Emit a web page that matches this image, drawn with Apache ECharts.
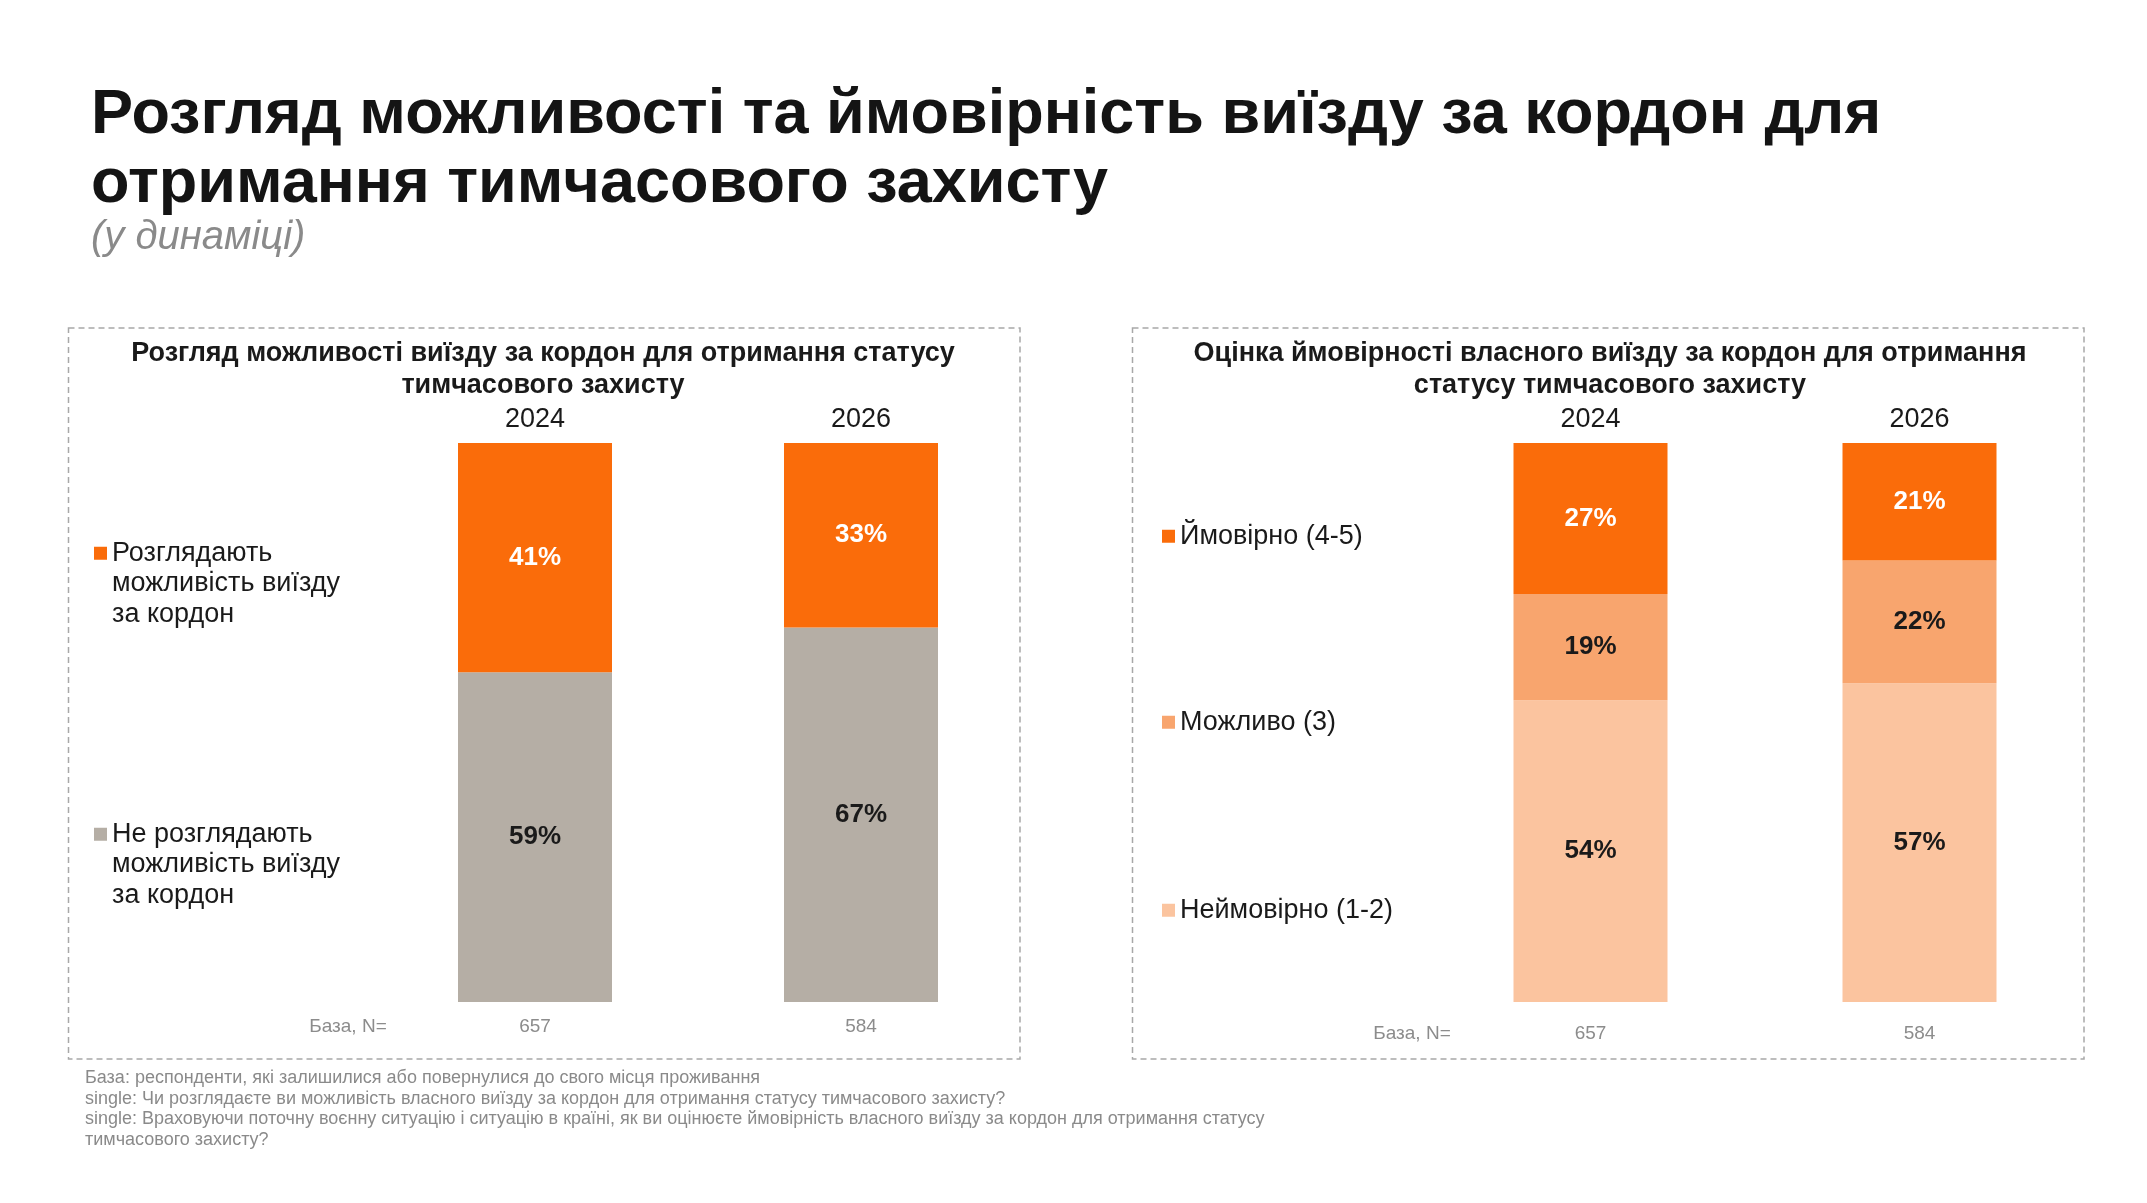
<!DOCTYPE html>
<html lang="uk">
<head>
<meta charset="utf-8">
<title>Розгляд можливості та ймовірність виїзду за кордон</title>
<script src="https://cdn.jsdelivr.net/npm/echarts@6/dist/echarts.min.js"></script>
<style>
  html, body { margin: 0; padding: 0; background: #fff; }
  #chart { width: 2147px; height: 1203px; }
</style>
</head>
<body>
<div id="chart"></div>
<script>
// дані
const years = ['2024', '2026'];
const baseN = ['657', '584'];
// ліва діаграма: розгляд можливості виїзду
const consider = [41, 33];
const notConsider = [59, 67];
// права діаграма: оцінка ймовірності виїзду
const likely = [27, 21];
const possible = [19, 22];
const unlikely = [54, 57];

const FONT = '"Liberation Sans", Arial, sans-serif';
const ORANGE = '#FA6C0A';
const GRAY = '#B5AEA5';
const MID = '#F8A56E';
const LIGHT = '#FBC49F';
const DARK = '#1a1a1a';

// два порожні рядки зверху, щоб квадратик стояв навпроти першого рядка
const legendText = {
  'Розглядають можливість виїзду за кордон': '\n\nРозглядають\nможливість виїзду\nза кордон',
  'Не розглядають можливість виїзду за кордон': '\n\nНе розглядають\nможливість виїзду\nза кордон'
};

const chart = echarts.init(document.getElementById('chart'));

// одна легенда на кожен пункт, щоб точно поставити по висоті
function legendFor(name, left, top) {
  return {
    data: [name],
    orient: 'vertical',
    left: left,
    top: top,
    padding: 0,
    icon: 'rect',
    itemWidth: 13,
    itemHeight: 13,
    itemGap: 0,
    selectedMode: false,
    formatter: n => legendText[n] || n,
    textStyle: { fontFamily: FONT, fontSize: 27, color: DARK, lineHeight: 30.5 }
  };
}

function barSeries(name, data, color, labelColor, idx) {
  return {
    type: 'bar',
    name: name,
    data: data,
    stack: 'st' + idx,
    xAxisIndex: idx * 2,
    yAxisIndex: idx,
    barWidth: 154,
    itemStyle: { color: color },
    label: {
      show: true,
      position: 'inside',
      formatter: '{c}%',
      color: labelColor,
      fontFamily: FONT,
      fontSize: 26,
      fontWeight: 'bold',
      textBorderWidth: 0
    },
    emphasis: { disabled: true }
  };
}

function yearAxis(grid) {
  return {
    gridIndex: grid, type: 'category', data: years, position: 'top',
    axisLine: { show: false }, axisTick: { show: false }, splitLine: { show: false },
    axisLabel: { fontFamily: FONT, fontSize: 27, color: DARK, margin: 10 }
  };
}

function baseAxis(grid, margin) {
  return {
    gridIndex: grid, type: 'category', data: baseN, position: 'bottom',
    axisLine: { show: false }, axisTick: { show: false }, splitLine: { show: false },
    axisLabel: { fontFamily: FONT, fontSize: 19, color: '#8c8c8c', margin: margin }
  };
}

const boxStyle = { fill: 'none', stroke: '#A8A8A8', lineWidth: 1.5, lineDash: [6, 4] };

const option = {
  backgroundColor: '#fff',
  animation: false,
  title: [
    {
      text: 'Розгляд можливості та ймовірність виїзду за кордон для\nотримання тимчасового захисту',
      left: 86, top: 76,
      textStyle: { fontFamily: FONT, fontSize: 63, fontWeight: 'bold', color: '#141414', lineHeight: 69 }
    },
    {
      text: '(у динаміці)',
      left: 86, top: 211,
      textStyle: { fontFamily: FONT, fontSize: 40, fontStyle: 'italic', fontWeight: 'normal', color: '#8a8a8a', lineHeight: 43 }
    }
  ],
  legend: [
    legendFor('Розглядають можливість виїзду за кордон', 94, 477),
    legendFor('Не розглядають можливість виїзду за кордон', 94, 758),
    legendFor('Ймовірно (4-5)', 1162, 521),
    legendFor('Можливо (3)', 1162, 707),
    legendFor('Неймовірно (1-2)', 1162, 895)
  ],
  grid: [
    { left: 372, width: 652, top: 443, height: 559 },
    { left: 1426, width: 658, top: 443, height: 559 }
  ],
  xAxis: [yearAxis(0), baseAxis(0, 15), yearAxis(1), baseAxis(1, 22)],
  yAxis: [
    { gridIndex: 0, type: 'value', min: 0, max: 100, show: false },
    { gridIndex: 1, type: 'value', min: 0, max: 100, show: false }
  ],
  series: [
    barSeries('Не розглядають можливість виїзду за кордон', notConsider, GRAY, DARK, 0),
    barSeries('Розглядають можливість виїзду за кордон', consider, ORANGE, '#fff', 0),
    barSeries('Неймовірно (1-2)', unlikely, LIGHT, DARK, 1),
    barSeries('Можливо (3)', possible, MID, DARK, 1),
    barSeries('Ймовірно (4-5)', likely, ORANGE, '#fff', 1)
  ],
  graphic: [
    { type: 'rect', shape: { x: 68.5, y: 328, width: 951.5, height: 731 }, style: boxStyle, silent: true },
    { type: 'rect', shape: { x: 1132.5, y: 328, width: 951.5, height: 731 }, style: boxStyle, silent: true },
    {
      type: 'text', x: 543, y: 370,
      style: {
        text: 'Розгляд можливості виїзду за кордон для отримання статусу\nтимчасового захисту',
        fontFamily: FONT, fontSize: 27, fontWeight: 'bold', fill: DARK, lineHeight: 32,
        align: 'center', verticalAlign: 'middle'
      }
    },
    {
      type: 'text', x: 1610, y: 370,
      style: {
        text: 'Оцінка ймовірності власного виїзду за кордон для отримання\nстатусу тимчасового захисту',
        fontFamily: FONT, fontSize: 27, fontWeight: 'bold', fill: DARK, lineHeight: 32,
        align: 'center', verticalAlign: 'middle'
      }
    },
    {
      type: 'text', x: 348, y: 1027,
      style: { text: 'База, N=', fontFamily: FONT, fontSize: 19, fill: '#8c8c8c', align: 'center', verticalAlign: 'middle' }
    },
    {
      type: 'text', x: 1412, y: 1034,
      style: { text: 'База, N=', fontFamily: FONT, fontSize: 19, fill: '#8c8c8c', align: 'center', verticalAlign: 'middle' }
    },
    {
      type: 'text', x: 85, y: 1068,
      style: {
        text: 'База: респонденти, які залишилися або повернулися до свого місця проживання\n' +
              'single: Чи розглядаєте ви можливість власного виїзду за кордон для отримання статусу тимчасового захисту?\n' +
              'single: Враховуючи поточну воєнну ситуацію і ситуацію в країні, як ви оцінюєте ймовірність власного виїзду за кордон для отримання статусу\n' +
              'тимчасового захисту?',
        fontFamily: FONT, fontSize: 18, fill: '#8a8a8a', lineHeight: 20.5,
        align: 'left', verticalAlign: 'top'
      }
    }
  ]
};

chart.setOption(option);
window.addEventListener('resize', () => chart.resize());
</script>
</body>
</html>
